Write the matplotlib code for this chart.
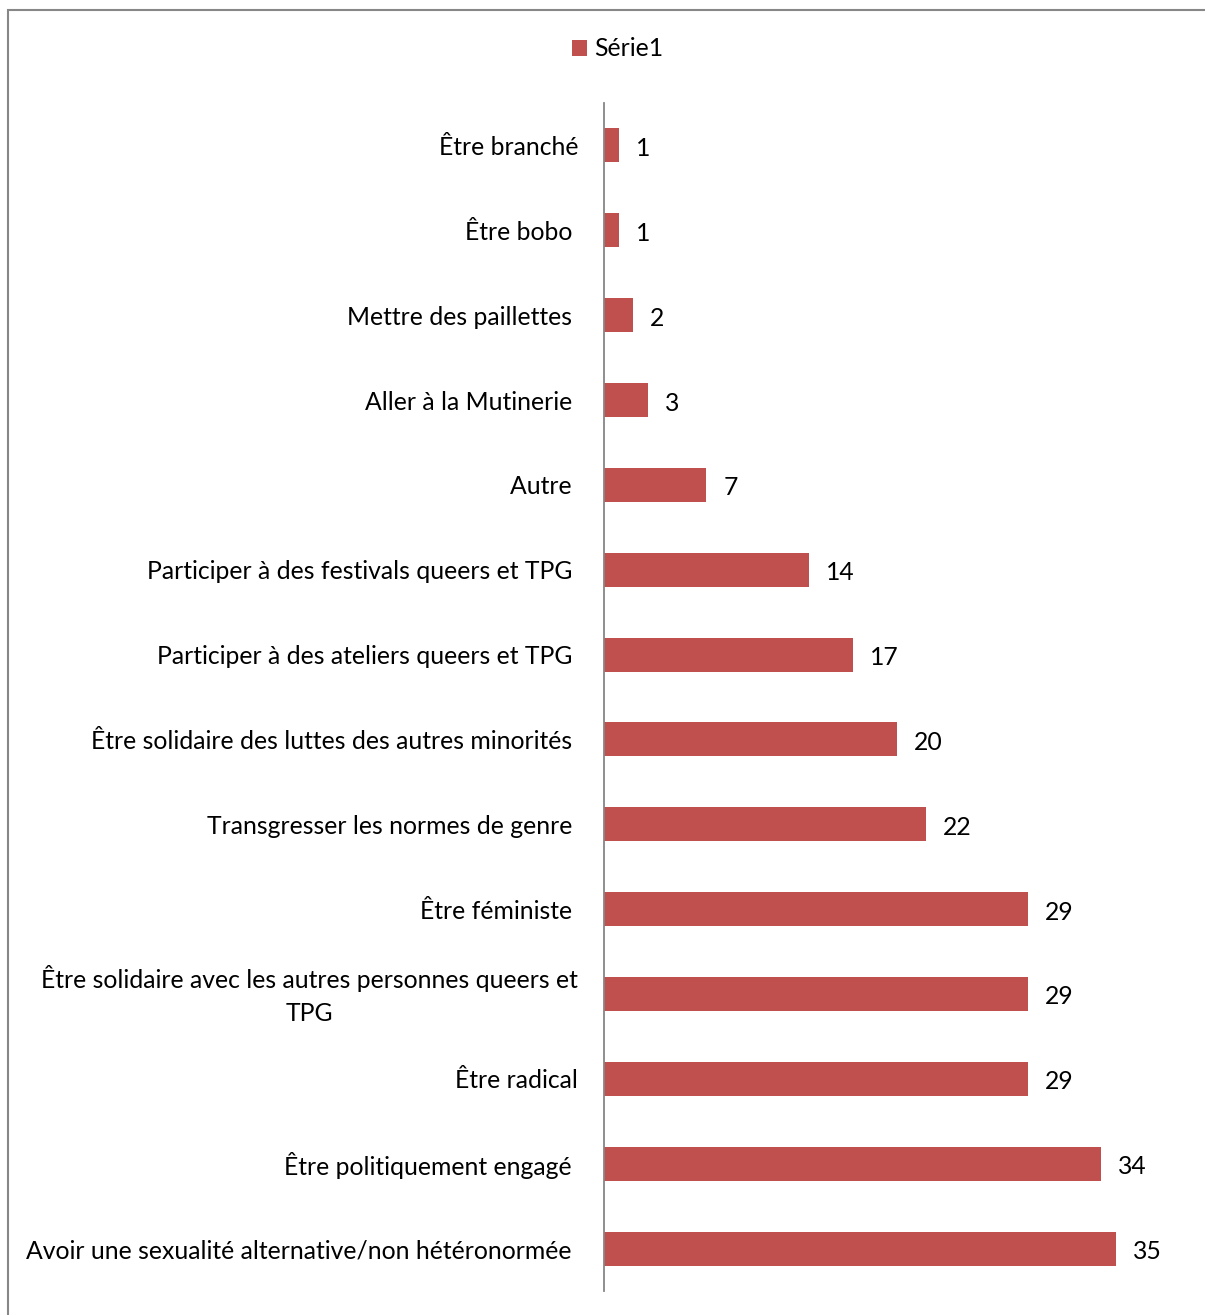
#!/usr/bin/env python

import numpy as np
import matplotlib
matplotlib.use("Agg")
import matplotlib.pyplot as plt
import matplotlib.patches as patches
import matplotlib.transforms as mtransforms

# data, top to bottom as in the chart (trailing spaces as in the source labels)
categories = [
	"Être branché",
	"Être bobo ",
	"Mettre des paillettes ",
	"Aller à la Mutinerie ",
	"Autre ",
	"Participer à des festivals queers et TPG ",
	"Participer à des ateliers queers et TPG ",
	"Être solidaire des luttes des autres minorités ",
	"Transgresser les normes de genre ",
	"Être féministe ",
	"Être solidaire avec les autres personnes queers et\nTPG",
	"Être radical",
	"Être politiquement engagé ",
	"Avoir une sexualité alternative/non hétéronormée ",
]
values = [1, 1, 2, 3, 7, 14, 17, 20, 22, 29, 29, 29, 34, 35]
series_name = "Série1"

barcolor = "#C0504D"
plt.rcParams['font.family'] = ['Lato', 'DejaVu Sans']
fs = 17.8

W, H = 1205, 1315
fig = plt.figure(figsize=(W / 100., H / 100.), dpi=100)

# axes placement in pixels
x0, x1 = 604, 1189
ytop, ybot = 103, 1291
ax = fig.add_axes([x0 / W, 1 - ybot / H, (x1 - x0) / W, (ybot - ytop) / H])

ypos = np.arange(len(categories))
bars = ax.barh(ypos, values, height=0.4, color=barcolor, label=series_name)
ax.set_ylim(len(categories) - 0.5, -0.5)
ax.set_xlim(0, 40)

for b, v in zip(bars, values):
	ax.annotate(str(v), (b.get_width(), b.get_y() + b.get_height() / 2.),
		xytext=(17, -3), textcoords="offset pixels", va="center", ha="left",
		fontsize=fs, color="black")

ax.set_yticks(ypos)
ax.set_yticklabels(categories, fontsize=fs, multialignment="center",
	linespacing=1.55)
ax.tick_params(axis="y", length=0, pad=18.5)
ax.set_xticks([])
for s in ["top", "right", "bottom"]:
	ax.spines[s].set_visible(False)
ax.spines["left"].set_color("#868686")
ax.spines["left"].set_linewidth(1.3)

# nudge the two-line label up a little so it sits centred on its bar
for lab in ax.get_yticklabels():
	if "\n" in lab.get_text():
		lab.set_transform(lab.get_transform() +
			mtransforms.ScaledTranslation(0, 6 / 100., fig.dpi_scale_trans))

# legend at the top
fig.legend(handles=[bars], labels=[series_name], loc="center",
	bbox_to_anchor=(618. / W, 1 - 49. / H), frameon=False, fontsize=fs,
	handlelength=0.6, handleheight=0.6, handletextpad=0.3)

# outer chart border, runs off right and bottom edge
border = patches.Rectangle((8. / W, -0.01), 1.0, 1 - 10. / H + 0.01,
	transform=fig.transFigure, fill=False, edgecolor="#878787", lw=1.5,
	clip_on=False)
fig.patches.append(border)

fig.savefig("out.png", dpi=100)
